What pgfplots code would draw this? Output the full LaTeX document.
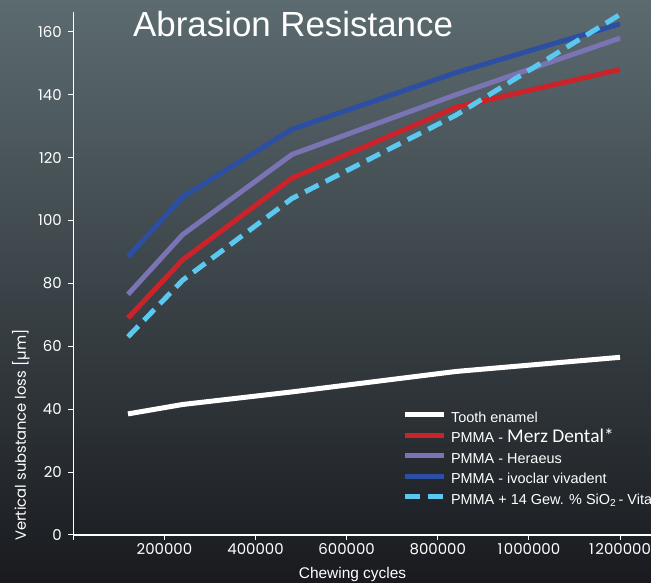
\documentclass[border=0pt]{standalone}
\usepackage{pgfplots}
\pgfplotsset{compat=1.18}
\usepackage{fontspec}
\setmainfont{Liberation Sans}
\newfontfamily\pop{Poppins}
\newfontfamily\carl{Carlito}
\definecolor{bgtop}{RGB}{92,107,112}
\definecolor{bgmid}{RGB}{56,63,68}
\definecolor{bgbot}{RGB}{24,26,30}
\definecolor{cred}{RGB}{204,34,41}
\definecolor{cpurple}{RGB}{123,116,180}
\definecolor{cblue}{RGB}{45,79,163}
\definecolor{ccyan}{RGB}{91,200,239}
\begin{document}
\begin{tikzpicture}[x=1bp,y=1bp]
\useasboundingbox (0,0) rectangle (651,583);
\clip (0,0) rectangle (651,583);
\shade[top color=bgtop, middle color=bgmid, bottom color=bgbot] (0,0) rectangle (651,583);
\begin{axis}[
  at={(73.3bp,48bp)}, anchor=south west,
  scale only axis, width=577.7bp, height=523bp,
  xmin=0, xmax=1268000, ymin=0, ymax=166.3,
  axis x line=bottom, axis y line=left,
  axis line style={-, white, line width=1.2bp},
  tick align=outside, major tick length=5bp,
  tick style={white, line width=1bp},
  scaled x ticks=false,
  xtick={0,200000,400000,600000,800000,1000000,1200000},
  xticklabels={,200000,400000,600000,800000,1\kern1.5bp000000,1\kern1.5bp200000},
  ytick={0,20,...,160},
  ticklabel style={font=\pop\fontsize{15}{15}\selectfont, text=white},
  yticklabel style={xshift=-3bp},
  /pgf/number format/assume math mode=true,
  title={Abrasion Resistance},
  title style={at={(rel axis cs:0.1033,1)}, anchor=base west, inner sep=0pt, yshift=-30bp, font=\fontsize{35}{35}\selectfont, text=white},
  xlabel={Chewing cycles},
  xlabel style={at={(axis description cs:0.4833,0)}, anchor=base, yshift=-44bp, font=\fontsize{15.5}{15.5}\selectfont, text=white},
  ylabel={Vertical substance loss [µm]},
  ylabel style={at={(axis description cs:-0.0905,0.191)}, anchor=center, font=\pop\fontsize{14.8}{14.8}\selectfont, text=white},
  legend style={at={(rel axis cs:0.5687,0.2352)}, anchor=north west, draw=none, fill=none, inner sep=0pt, row sep=7.5bp, text=white, font=\fontsize{14.5}{14.5}\selectfont, nodes={inner sep=0pt, text height=10bp, text depth=3bp}},
  legend cell align=left,
  legend image code/.code={\draw[#1, dash phase=0pt] (0bp,4bp) -- (39bp,4bp);},
  every axis plot/.append style={line width=5bp},
]
\addplot[white, no markers] coordinates {(120000,38.5) (240000,41.5) (480000,45.5) (840000,52) (1200000,56.5)};
\addlegendentry{\hspace{5bp}Tooth enamel}
\addplot[cred, no markers] coordinates {(120000,69) (240000,87.5) (480000,113.5) (840000,136) (1200000,148)};
\addlegendentry{\hspace{5bp}PMMA - {\carl\fontsize{19.5}{19.5}\selectfont Merz Dental*}}
\addplot[cpurple, no markers] coordinates {(120000,76.5) (240000,95.5) (480000,121) (840000,140) (1200000,158)};
\addlegendentry{\hspace{5bp}PMMA - Heraeus}
\addplot[cblue, no markers] coordinates {(120000,88.5) (240000,107.5) (480000,129) (840000,147) (1200000,162.5)};
\addlegendentry{\hspace{5bp}PMMA - ivoclar vivadent}
\addplot[ccyan, no markers, dash pattern=on 15bp off 8bp] coordinates {(120000,63) (240000,81) (480000,107) (840000,133.5) (1200000,165.5)};
\addlegendentry{\hspace{5bp}PMMA + 14 Gew. \% SiO\textsubscript{2}\,- Vita}
\end{axis}
\end{tikzpicture}
\end{document}
